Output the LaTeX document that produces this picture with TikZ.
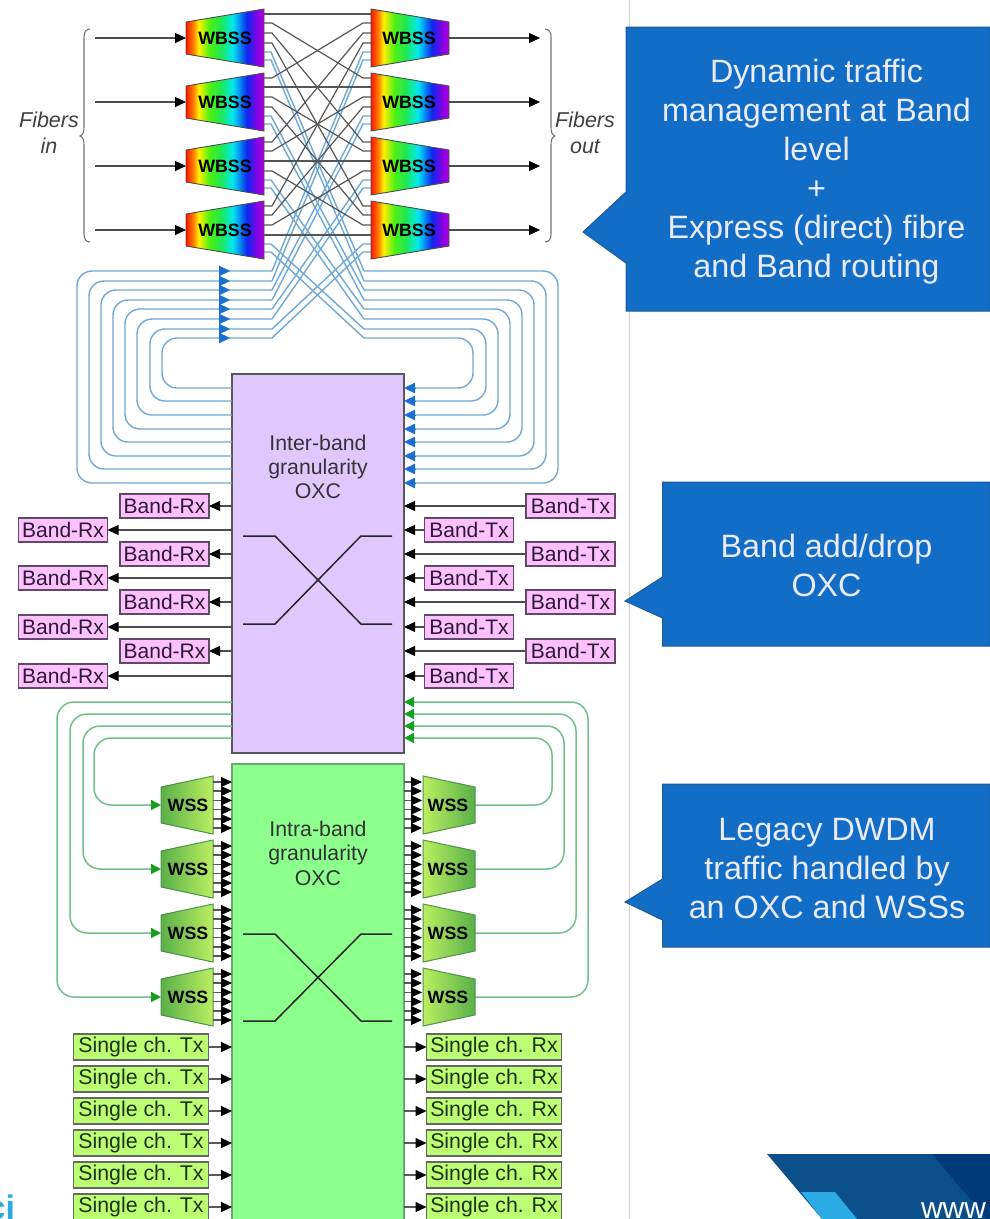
\documentclass[tikz,border=0pt]{standalone}
\usepackage{fontspec}
\setmainfont{Liberation Sans}
\usetikzlibrary{arrows.meta,calc}
\definecolor{bluecall}{HTML}{126DC6}
\definecolor{bluecalledge}{HTML}{1F5A92}
\definecolor{bluewire}{HTML}{6FA8D6}
\definecolor{bluetip}{HTML}{1A6FD0}
\definecolor{greenwire}{HTML}{72C088}
\definecolor{greentip}{HTML}{12A020}
\definecolor{blackwire}{HTML}{555555}
\definecolor{purplebox}{HTML}{E0C8FF}
\definecolor{greenbox}{HTML}{8CFF8C}
\definecolor{bandfill}{HTML}{FFC0FF}
\definecolor{bandedge}{HTML}{5E4A66}
\definecolor{bandtext}{HTML}{2A1A36}
\definecolor{singlefill}{HTML}{BCFF72}
\definecolor{singletext}{HTML}{1C3310}
\definecolor{lightwss}{HTML}{BCEE62}
\definecolor{darkwss}{HTML}{58B048}
\definecolor{logomid}{HTML}{0B4F8A}
\definecolor{logodark}{HTML}{003A78}
\definecolor{logocyan}{HTML}{2AABE6}
\definecolor{rbred}{HTML}{FF1400}
\definecolor{rborange}{HTML}{FF8800}
\definecolor{rbyellow}{HTML}{FFF000}
\definecolor{rbgreena}{HTML}{50F014}
\definecolor{rbgreenb}{HTML}{20E850}
\definecolor{rbcyan}{HTML}{00E8F0}
\definecolor{rbblue}{HTML}{0A28F0}
\definecolor{rbviolet}{HTML}{8C00E6}
\definecolor{rbend}{HTML}{B000D8}
\pgfdeclarehorizontalshading{rainbow}{100bp}{
 color(0bp)=(rbred);
 color(25bp)=(rbred);
 color(30bp)=(rborange);
 color(33bp)=(rbyellow);
 color(40bp)=(rbgreena);
 color(47bp)=(rbgreenb);
 color(55bp)=(rbcyan);
 color(64bp)=(rbblue);
 color(71bp)=(rbviolet);
 color(75bp)=(rbend);
 color(100bp)=(rbend)}
\pgfdeclarehorizontalshading{wssleft}{100bp}{
 color(0bp)=(darkwss); color(25bp)=(darkwss); color(75bp)=(lightwss); color(100bp)=(lightwss)}
\pgfdeclarehorizontalshading{wssright}{100bp}{
 color(0bp)=(lightwss); color(25bp)=(lightwss); color(75bp)=(darkwss); color(100bp)=(darkwss)}
\tikzset{
 x=1pt,y=-1pt,
 every node/.style={inner sep=0pt,outer sep=0pt,align=center},
 blackline/.style={draw=blackwire,line width=1.2pt},
 inarrow/.style={draw=black!70,line width=1.3pt,-{Triangle[length=11pt,width=10pt,color=black,fill=black]}},
 blueline/.style={draw=bluewire,line width=1.4pt},
 bluehead/.style={draw=bluetip,line width=.2pt,-{Triangle[length=11pt,width=10.5pt,color=bluetip,fill=bluetip]}},
 greenline/.style={draw=greenwire,line width=1.5pt},
 smallarrow/.style={draw=black!65,line width=1.1pt,-{Triangle[length=11pt,width=10pt,color=black,fill=black]}},
 bandbox/.style={draw=bandedge,line width=1.6pt,fill=bandfill,minimum width=89pt,minimum height=23.5pt,text=bandtext,font=\fontsize{21}{25}\selectfont},
 singlebox/.style={draw=black!60,line width=1.6pt,fill=singlefill,minimum width=135pt,minimum height=26.5pt,text=singletext,font=\fontsize{21.3}{25}\selectfont},
 oxclabel/.style={text=black!80,font=\fontsize{21.3}{25}\selectfont},
 wbsslabel/.style={text=black,font=\fontsize{17.8}{20}\selectfont\bfseries},
 fiberlabel/.style={text=black!75,font=\fontsize{21.5}{26}\selectfont\itshape},
 calltext/.style={text=white!92!blue,font=\fontsize{32.3}{39}\selectfont},
 callshape/.style={fill=bluecall,draw=bluecalledge,line width=1pt},
}
\begin{document}
\begin{tikzpicture}
\useasboundingbox (0,0) rectangle (990,1219);
\begin{scope}
\clip (0,0) rectangle (990,1219);
\draw[black!18,line width=1pt] (629.5,0) -- (629.5,1219);

% OXC boxes
\node[draw=black!65,line width=1.4pt,fill=purplebox,minimum width=172pt,minimum height=379pt] (inter) at (318,563.5) {};
\node[draw=black!55!green!60,line width=1.4pt,fill=greenbox,minimum width=172pt,minimum height=500pt] (intra) at (318,1014) {};
\node[oxclabel] (interA) at (318,443) {Inter-band};
\node[oxclabel] (interB) at (318,469) {granularity};
\node[oxclabel] (interC) at (318,491) {OXC};
\node[oxclabel] (intraA) at (318,829) {Intra-band};
\node[oxclabel] (intraB) at (318,855) {granularity};
\node[oxclabel] (intraC) at (318,878) {OXC};
\draw[black!85,line width=1.5pt] (243,536) -- (275,536) -- (361,624) -- (392,624);
\draw[black!85,line width=1.5pt] (243,624) -- (275,624) -- (361,536) -- (392,536);
\draw[black!85,line width=1.5pt] (243,934) -- (275,934) -- (361,1021) -- (392,1021);
\draw[black!85,line width=1.5pt] (243,1021) -- (275,1021) -- (361,934) -- (392,934);

% WBSS ports
\foreach \i/\cy in {1/38,2/102,3/166,4/230}{
  \foreach \k/\o in {1/-24,2/-15,3/-5,4/5,5/14,6/22}{
    \coordinate (wl-\i-\k) at (264,\cy+\o);
    \coordinate (wr-\i-\k) at (371,\cy+\o);
  }
}
% blue express loops
\foreach \j/\i/\k/\xl/\xr/\t/\b in {
  1/1/5/77/558/271/483, 2/1/6/89/546/281/469, 3/2/5/101/534/290/456, 4/2/6/113/522/300/442,
  5/3/5/125/510/309/429, 6/3/6/137/498/319/415, 7/4/5/150/486/329/401, 8/4/6/162/473/338/388}{
  \coordinate (ow-\j) at (232,\b);
  \coordinate (oe-\j) at (404,\b);
  \coordinate (lt-\j) at (272,\t);
  \coordinate (rt-\j) at (364,\t);
  \coordinate (ha-\j) at (219,\t);
  \coordinate (hb-\j) at (230,\t);
  \draw[blueline,rounded corners=15pt] (ow-\j) -- (\xl,\b) -- (\xl,\t) -- (lt-\j);
  \draw[blueline] (lt-\j) -- ($(wr-\i-\k)+(-8,0)$) -- (wr-\i-\k);
  \draw[blueline] (wl-\i-\k) -- ($(wl-\i-\k)+(7,0)$) -- (rt-\j);
  \draw[blueline,rounded corners=15pt] (rt-\j) -- (\xr,\t) -- (\xr,\b) -- ($(oe-\j)+(9,0)$);
  \draw[bluehead] ($(oe-\j)+(12,0)$) -- (oe-\j);
  \draw[bluehead] (ha-\j) -- (hb-\j);
}
% black fibre mesh
\foreach \i in {1,2,3,4}{
  \foreach \k in {1,2,3,4}{
    \draw[blackline] (wl-\i-\k) -- ($(wl-\i-\k)+(8,0)$) -- ($(wr-\k-\i)+(-8,0)$) -- (wr-\k-\i);
  }
}
% WBSS blocks
\foreach \i/\cy in {1/38,2/102,3/166,4/230}{
  \shade[shading=rainbow,draw=black!70,line width=.9pt] (186,\cy-16) -- (264,\cy-29) -- (264,\cy+29) -- (186,\cy+16) -- cycle;
  \shade[shading=rainbow,draw=black!70,line width=.9pt] (371,\cy-29) -- (449,\cy-16) -- (449,\cy+16) -- (371,\cy+29) -- cycle;
  \node[wbsslabel] (wbl\i) at (225,\cy) {WBSS};
  \node[wbsslabel] (wbr\i) at (409,\cy) {WBSS};
  \coordinate (fi\i) at (95,\cy);
  \coordinate (wi\i) at (186,\cy);
  \coordinate (wo\i) at (449,\cy);
  \coordinate (fo\i) at (540,\cy);
  \draw[inarrow] (fi\i) -- (wi\i);
  \draw[inarrow] (wo\i) -- (fo\i);
}
% braces
\draw[black!55,line width=1.1pt] (90,29) .. controls (86,29) and (84,32) .. (84,37) -- (84,127) .. controls (84,132) and (83,135) .. (80,136) .. controls (83,137) and (84,140) .. (84,145) -- (84,234) .. controls (84,239) and (86,242) .. (90,242);
\draw[black!55,line width=1.1pt] (545,29) .. controls (549,29) and (551,32) .. (551,37) -- (551,127) .. controls (551,132) and (552,135) .. (555,136) .. controls (552,137) and (551,140) .. (551,145) -- (551,234) .. controls (551,239) and (549,242) .. (545,242);
\node[fiberlabel] (fibin) at (49,133) {Fibers\\in};
\node[fiberlabel] (fibout) at (585,133) {Fibers\\out};

% Band add/drop
\foreach \n/\y in {1/506,2/554,3/602,4/651}{
  \node[bandbox] (rxa\n) at (164.5,\y) {Band-Rx};
  \node[bandbox] (txa\n) at (570.5,\y) {Band-Tx};
  \draw[inarrow] (rxa\n.east -| inter.west) -- (rxa\n.east);
  \draw[inarrow] (txa\n.west) -- (txa\n.west -| inter.east);
}
\foreach \n/\y in {1/530,2/578,3/627,4/676}{
  \node[bandbox] (rxb\n) at (63,\y) {Band-Rx};
  \node[bandbox] (txb\n) at (469,\y) {Band-Tx};
  \draw[inarrow] (rxb\n.east -| inter.west) -- (rxb\n.east);
  \draw[inarrow] (txb\n.west) -- (txb\n.west -| inter.east);
}

% WSS blocks and green loops
\foreach \i/\cy/\t/\xl/\xr in {1/805/738/94/552,2/869/726/83/564,3/933/714/70/576,4/997/702/57/588}{
  \coordinate (gw\i) at (232,\t);
  \coordinate (ge\i) at (404,\t);
  \coordinate (wli\i) at (161,\cy);
  \coordinate (wro\i) at (475,\cy);
  \draw[greenline,rounded corners=17pt] (gw\i) -- (\xl,\t) -- (\xl,\cy) -- ($(wli\i)+(-8,0)$);
  \draw[draw=greenwire,line width=1.4pt,-{Triangle[length=10pt,width=10pt,color=greentip,fill=greentip]}] ($(wli\i)+(-11,0)$) -- (wli\i);
  \draw[greenline,rounded corners=17pt] (wro\i) -- (\xr,\cy) -- (\xr,\t) -- ($(ge\i)+(8,0)$);
  \draw[draw=greenwire,line width=1.4pt,-{Triangle[length=10pt,width=10pt,color=greentip,fill=greentip]}] ($(ge\i)+(11,0)$) -- (ge\i);
  \shade[shading=wssleft,draw=black!60!green!70,line width=1pt] (161,\cy-18) -- (213,\cy-29) -- (213,\cy+29) -- (161,\cy+18) -- cycle;
  \shade[shading=wssright,draw=black!60!green!70,line width=1pt] (423,\cy-29) -- (475,\cy-18) -- (475,\cy+18) -- (423,\cy+29) -- cycle;
  \node[wbsslabel] (wsl\i) at (188,\cy) {WSS};
  \node[wbsslabel] (wsr\i) at (448,\cy) {WSS};
  \foreach \o [count=\m] in {-23,-14,-4.6,4.6,14,23}{
    \coordinate (al-\i-\m) at (213,\cy+\o);
    \coordinate (ar-\i-\m) at (404,\cy+\o);
    \draw[smallarrow] (al-\i-\m) -- (al-\i-\m -| intra.west);
    \draw[smallarrow] (ar-\i-\m) -- +(18,0);
  }
}
% single-channel
\foreach \n/\y in {1/1047,2/1079,3/1111,4/1143,5/1175,6/1207}{
  \node[singlebox] (stx\n) at (141,\y) {Single ch. Tx};
  \node[singlebox] (srx\n) at (494,\y) {Single ch. Rx};
  \draw[smallarrow] (stx\n.east) -- (stx\n.east -| intra.west);
  \draw[smallarrow] (srx\n.west -| intra.east) -- (srx\n.west);
}

% call-outs
\path[callshape] (626,27) -- (990,27) -- (990,311) -- (626,311) -- (626,263) -- (583,232) -- (626,192) -- cycle;
\path[callshape] (662.5,482) -- (990,482) -- (990,646) -- (662.5,646) -- (662.5,618) -- (625,601) -- (662.5,577) -- cycle;
\path[callshape] (662.5,784) -- (990,784) -- (990,947) -- (662.5,947) -- (662.5,920) -- (625,902) -- (662.5,879) -- cycle;
\node[calltext] (call1) at (816.5,172) {Dynamic traffic\\management at Band\\level\\+\\Express (direct) fibre\\and Band routing};
\node[calltext] (call2) at (826.5,565.5) {Band add/drop\\OXC};
\node[calltext] (call3) at (827,868.5) {Legacy DWDM\\traffic handled by\\an OXC and WSSs};

% logo fragments
\fill[logomid] (767,1154) -- (990,1154) -- (990,1219) -- (822,1219) -- cycle;
\fill[logodark] (932,1154) -- (990,1154) -- (990,1219) -- (987,1219) -- cycle;
\fill[logocyan] (801,1192) -- (835,1192) -- (857,1219) -- (822,1219) -- cycle;
\node[anchor=base west,text=white,font=\fontsize{30}{30}\selectfont] (www) at (921,1218) {www};
\node[anchor=base east,text=logocyan,font=\fontsize{34}{34}\selectfont\bfseries] (ci) at (15,1219) {ci};
\end{scope}
\end{tikzpicture}
\end{document}
